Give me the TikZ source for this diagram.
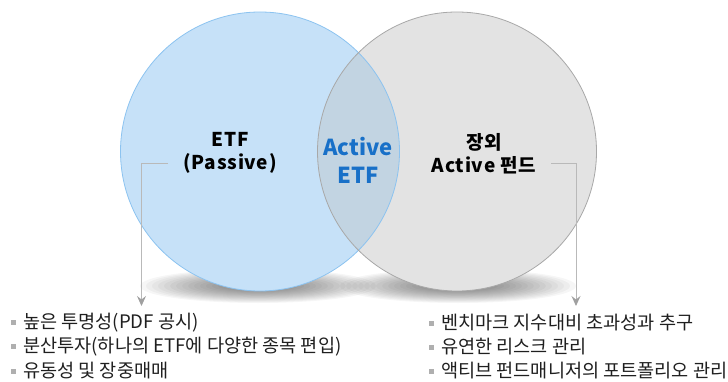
\documentclass[tikz,border=0pt]{standalone}
\usepackage{fontspec}
\setmainfont{Noto Sans CJK KR}
\usetikzlibrary{arrows.meta}
\definecolor{passfill}{RGB}{198,225,248}
\definecolor{passline}{RGB}{140,195,240}
\definecolor{actfill}{RGB}{227,227,227}
\definecolor{actline}{RGB}{168,168,168}
\definecolor{lensfill}{RGB}{194,212,226}
\definecolor{etfblue}{RGB}{24,112,200}
\definecolor{linkgray}{RGB}{185,185,185}
\definecolor{tipgray}{RGB}{160,160,160}
\definecolor{bulletgray}{RGB}{175,175,175}
\newcommand{\sqbullet}{{\color{bulletgray}\rule[0.22em]{5pt}{5pt}}\hspace{7pt}}
\tikzset{
  title/.style={font=\fontsize{19}{23}\selectfont\bfseries\addfontfeature{LetterSpace=4}, align=center, text=black, inner sep=0pt},
  core/.style={font=\fontsize{22}{28}\selectfont\bfseries, align=center, text=etfblue, inner sep=0pt},
  item/.style={font=\fontsize{18.6}{24}\selectfont, anchor=west, inner sep=0pt, text=black!88},
  link/.style={draw=linkgray, line width=0.9pt, -{Stealth[length=10pt,width=9pt,inset=3.5pt,color=tipgray]}}
}
% a soft blurred shadow built from stacked translucent ellipses
\newcommand{\softshadow}[2]{%
  \foreach \k in {0,...,13}{
    \fill[black, opacity=0.036] (#1,#2) ellipse [x radius={118-6*\k}, y radius={17-0.9*\k}];
  }}
\begin{document}
\begin{tikzpicture}[x=1pt,y=-1pt]
\useasboundingbox (0,0) rectangle (728,382);
% soft shadows under the two circles
\softshadow{258}{286}
\softshadow{458}{286}
% the two sets
\fill[passfill] (260,151.5) circle [radius=139.5];
\fill[actfill] (457,151.5) circle [radius=139.5];
% overlap
\begin{scope}
  \clip (260,151.5) circle [radius=139.5];
  \fill[lensfill] (457,151.5) circle [radius=139.5];
\end{scope}
\draw[passline, line width=0.8pt] (260,151.5) circle [radius=139.5];
\draw[actline, line width=0.8pt] (457,151.5) circle [radius=139.5];
% labels
\node[title] (passive) at (230,153) {ETF\\(Passive)};
\node[core] (activeetf) at (358,160) {Active\\ETF};
\node[title] (otc) at (484,154) {장외\\Active 펀드};
% lists
\node[item] (l1) at (11,323) {\sqbullet 높은 투명성(PDF 공시)};
\node[item] (l2) at (11,347) {\sqbullet 분산투자(하나의 ETF에 다양한 종목 편입)};
\node[item] (l3) at (11,371) {\sqbullet 유동성 및 장중매매};
\node[item] (r1) at (429,323) {\sqbullet 벤치마크 지수대비 초과성과 추구};
\node[item] (r2) at (429,347) {\sqbullet 유연한 리스크 관리};
\node[item] (r3) at (429,371) {\sqbullet 액티브 펀드매니저의 포트폴리오 관리};
% connectors from the labels down to their lists
\coordinate (ls) at (168,163.5);
\coordinate (le) at (141.5,306);
\coordinate (rs) at (551,163.5);
\coordinate (re) at (576,306);
\draw[link] (ls) -| (le);
\draw[link] (rs) -| (re);
\end{tikzpicture}
\end{document}
